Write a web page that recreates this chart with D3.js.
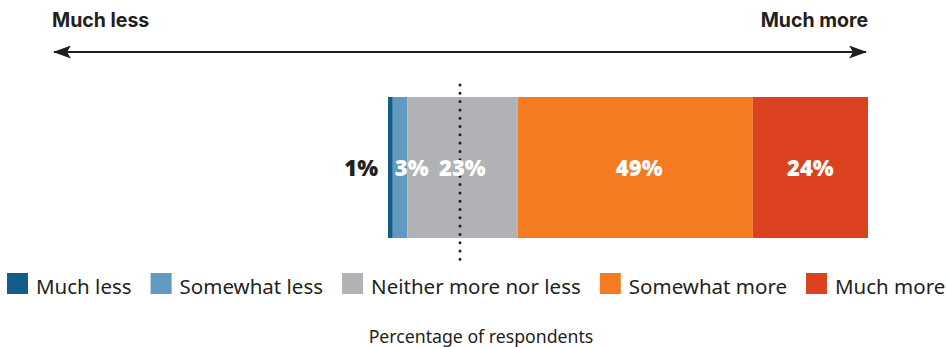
<!DOCTYPE html>
<html>
<head>
<meta charset="utf-8">
<script src="https://cdn.jsdelivr.net/npm/d3@7"></script>
<style>
body { margin: 0; background: #fff; }
svg { display: block; }
</style>
</head>
<body>
<div id="chart"></div>
<script>
var categories = ['Much less','Somewhat less','Neither more nor less','Somewhat more','Much more']
var values = [1, 3, 23, 49, 24]
var labels = ['1%','3%','23%','49%','24%']
var colors = ['#125e89','#6199bf','#b1b2b6','#f47b22','#dc4220']
var labelColors = ['#231f20','#fff','#fff','#fff','#fff']
var ends = ['Much less','Much more']
var axisTitle = 'Percentage of respondents'

var width = 946
var height = 347
var svg = d3.select('#chart').append('svg')
            .attr('width', width)
            .attr('height', height)

var x = d3.scaleLinear().domain([0,100]).range([388,868])
var barTop = 97, barH = 141
var arrowL = 52, arrowR = 868, arrowY = 52

// stack
var acc = 0
var segs = values.map((v,i)=>{
	var s = {i:i, x0:acc, x1:acc+v}
	acc += v
	return s
})

// arrow
var defs = svg.append('defs')
defs.append('marker').attr('id','head')
	.attr('viewBox','0 0 18 13').attr('refX',17).attr('refY',6.5)
	.attr('markerWidth',18).attr('markerHeight',13)
	.attr('markerUnits','userSpaceOnUse').attr('orient','auto-start-reverse')
	.append('path').attr('d','M0,0 L18,6.5 L0,13 L4,6.5 Z').attr('fill','#231f20')
svg.append('line')
	.attr('x1',arrowL+2).attr('x2',arrowR-2).attr('y1',arrowY).attr('y2',arrowY)
	.attr('stroke','#231f20').attr('stroke-width',2)
	.attr('marker-start','url(#head)').attr('marker-end','url(#head)')

svg.append('text').text(ends[0])
	.attr('x',arrowL).attr('y',27)
	.style('font-family','Inter').style('font-weight',700).style('font-size','19.5px')
	.attr('fill','#231f20')
svg.append('text').text(ends[1])
	.attr('x',arrowR).attr('y',27).attr('text-anchor','end')
	.style('font-family','Inter').style('font-weight',700).style('font-size','19.5px')
	.attr('fill','#231f20')

// bars
svg.append('g').selectAll('rect').data(segs).enter().append('rect')
	.attr('x',d=>x(d.x0)).attr('width',d=>x(d.x1)-x(d.x0))
	.attr('y',barTop).attr('height',barH)
	.attr('fill',d=>colors[d.i])

// dotted midline
var mid = (arrowL+arrowR)/2
svg.append('line')
	.attr('x1',mid).attr('x2',mid).attr('y1',85).attr('y2',263)
	.attr('stroke','#231f20').attr('stroke-width',3)
	.attr('stroke-linecap','round').attr('stroke-dasharray','0 8.3')

// value labels
svg.append('g').selectAll('text').data(segs).enter().append('text')
	.text(d=>labels[d.i])
	.attr('x',d=>{
		if(d.i===0) return x(d.x0)-10
		if(d.i===1) return x(d.x0)+2
		return (x(d.x0)+x(d.x1))/2 + (d.i===3?4:0)
	})
	.attr('text-anchor',d=>d.i===0?'end':(d.i===1?'start':'middle'))
	.attr('y',barTop+barH/2+8)
	.style('font-family','Open Sans').style('font-weight',800).style('font-size','22px')
	.attr('fill',d=>labelColors[d.i])

// legend
var lg = svg.append('g')
var lx = 7
categories.forEach((c,i)=>{
	lg.append('rect').attr('x',lx).attr('y',273).attr('width',21).attr('height',21)
		.attr('fill',colors[i])
	var t = lg.append('text').text(c).attr('x',lx+29).attr('y',294)
		.style('font-family','Noto Sans').style('font-size','20.5px')
		.attr('fill','#231f20')
	lx += 29 + t.node().getComputedTextLength() + 19
})

svg.append('text').text(axisTitle)
	.attr('x',481).attr('y',343).attr('text-anchor','middle')
	.style('font-family','Noto Sans').style('font-size','17.7px')
	.attr('fill','#231f20')
</script>
</body>
</html>
